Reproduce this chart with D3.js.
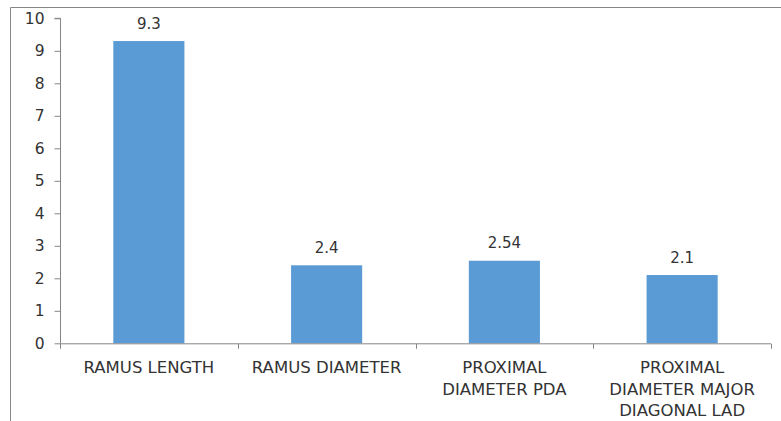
<!DOCTYPE html>
<html>
<head>
<meta charset="utf-8">
<script src="https://cdn.jsdelivr.net/npm/d3@7"></script>
<style>
  html, body { margin: 0; padding: 0; background: #fff; }
  svg { display: block; }
</style>
</head>
<body>
<div id="chart"></div>
<script>
const categories = [
  ["RAMUS LENGTH"],
  ["RAMUS DIAMETER"],
  ["PROXIMAL", "DIAMETER PDA"],
  ["PROXIMAL", "DIAMETER MAJOR", "DIAGONAL LAD"]
];
const values = [9.3, 2.4, 2.54, 2.1];
const valueLabels = ["9.3", "2.4", "2.54", "2.1"];
const yTicks = [0, 1, 2, 3, 4, 5, 6, 7, 8, 9, 10];

const W = 781, H = 421;
const plot = { left: 60, right: 771, top: 18.3, bottom: 343.3 };
const font = "'DejaVu Sans', sans-serif";
const textColor = "#333333";
const axisColor = "#868686";

const svg = d3.select("#chart").append("svg")
  .attr("width", W).attr("height", H);

// outer frame (left and top edges visible)
svg.append("line").attr("x1", 10.5).attr("x2", 10.5).attr("y1", 7.5).attr("y2", H)
  .attr("stroke", axisColor).attr("stroke-width", 1);
svg.append("line").attr("x1", 10.5).attr("x2", W).attr("y1", 7.5).attr("y2", 7.5)
  .attr("stroke", axisColor).attr("stroke-width", 1);

const keys = categories.map((d, i) => i);
const x = d3.scaleBand().domain(keys).range([plot.left, plot.right])
  .paddingInner(0.6).paddingOuter(0.3);
const y = d3.scaleLinear().domain([0, 10]).range([plot.bottom, plot.top]);

// bars
svg.append("g").selectAll("rect").data(values).join("rect")
  .attr("x", (d, i) => x(i))
  .attr("width", x.bandwidth())
  .attr("y", d => y(d))
  .attr("height", d => y(0) - y(d))
  .attr("fill", "#5B9BD5");

// data labels
svg.append("g").selectAll("text").data(values).join("text")
  .attr("x", (d, i) => x(i) + x.bandwidth() / 2)
  .attr("y", d => y(d) - 12.5)
  .attr("text-anchor", "middle")
  .attr("font-family", font).attr("font-size", 15)
  .attr("fill", textColor)
  .text((d, i) => valueLabels[i]);

// y axis
const yAxis = d3.axisLeft(y).tickValues(yTicks).tickSize(6).tickPadding(10)
  .tickFormat(d3.format("d"));
const gy = svg.append("g").attr("transform", `translate(${plot.left + 0.5},0)`).call(yAxis);
gy.select(".domain").attr("stroke", axisColor).attr("d", `M-6,${plot.top}H0V${plot.bottom}`);
gy.selectAll(".tick line").attr("stroke", axisColor);
gy.selectAll(".tick text").attr("font-family", font).attr("font-size", 15.5)
  .attr("fill", textColor);

// x axis (band separators)
const xOuter = d3.scaleLinear().domain([0, categories.length]).range([plot.left, plot.right]);
const gx = svg.append("g").attr("transform", `translate(0,${plot.bottom + 0.5})`);
gx.append("line").attr("x1", plot.left).attr("x2", plot.right).attr("y1", 0).attr("y2", 0)
  .attr("stroke", axisColor);
gx.selectAll("line.sep").data(d3.range(categories.length + 1)).join("line")
  .attr("class", "sep")
  .attr("x1", d => Math.round(xOuter(d)) + 0.5).attr("x2", d => Math.round(xOuter(d)) + 0.5)
  .attr("y1", 0).attr("y2", 5)
  .attr("stroke", axisColor);

// category labels
const lab = svg.append("g").selectAll("text").data(categories).join("text")
  .attr("text-anchor", "middle")
  .attr("font-family", font).attr("font-size", 16.5)
  .attr("fill", textColor)
  .attr("transform", (d, i) => `translate(${x(i) + x.bandwidth() / 2},373)`);
lab.selectAll("tspan").data(d => d).join("tspan")
  .attr("x", 0)
  .attr("y", (d, j) => j * 21.5)
  .text(d => d);
</script>
</body>
</html>
